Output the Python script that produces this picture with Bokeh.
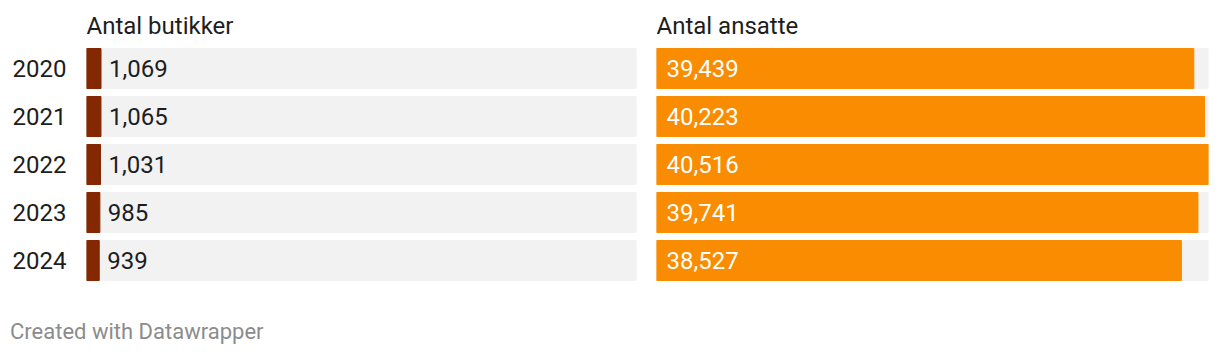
from bokeh.plotting import figure
from bokeh.models import FactorRange, Range1d, ColumnDataSource, Div
from bokeh.layouts import row, column
from bokeh.embed import file_html
from bokeh.resources import INLINE
from bokeh.core.properties import value

years = ["2020", "2021", "2022", "2023", "2024"]
butikker = [1069, 1065, 1031, 985, 939]
ansatte = [39439, 40223, 40516, 39741, 38527]
col_titles = ["Antal butikker", "Antal ansatte"]
footer = "Created with Datawrapper"

FONT = "Roboto"
FS = "24px"
TXT = "#1d1d1d"
BG = "#f2f2f2"
C_LEFT = "#832800"
C_RIGHT = "#f98c00"

vmax = max(max(butikker), max(ansatte))


def make_src(vals):
    return ColumnDataSource(dict(
        y=years,
        v=vals,
        lbl=[f"{v:,}" for v in vals],
        bg=[vmax] * len(vals),
        zero=[0] * len(vals),
    ))


def base_fig(width, frame_w, border_left, title):
    p = figure(width=width, height=300,
               y_range=FactorRange(factors=years[::-1], range_padding=0),
               x_range=Range1d(0, vmax),
               output_backend="svg", toolbar_location=None,
               x_axis_location=None,
               min_border_left=border_left, min_border_right=width - border_left - frame_w,
               min_border_top=44, min_border_bottom=16,
               background_fill_color="white", border_fill_color="white")
    p.outline_line_color = None
    p.grid.visible = False
    p.title.text = title
    p.title.text_font = FONT
    p.title.text_font_size = FS
    p.title.text_font_style = "normal"
    p.title.text_color = TXT
    p.title.align = "left"
    p.title.standoff = 9
    return p


# left panel
p1 = base_fig(646, 550, 86, col_titles[0])
s1 = make_src(butikker)
p1.hbar(y="y", left="zero", right="bg", height=40 / 48, color=BG, source=s1)
p1.hbar(y="y", left="zero", right="v", height=40 / 48, color=C_LEFT, source=s1)
p1.text(x="v", y="y", text="lbl", x_offset=8, text_baseline="middle", text_align="left",
        text_font=value(FONT), text_font_size=FS, text_color=TXT, source=s1)
ax = p1.yaxis[0]
ax.axis_line_color = None
ax.major_tick_line_color = None
ax.minor_tick_line_color = None
ax.major_tick_out = 0
ax.major_tick_in = 0
ax.major_label_text_font = FONT
ax.major_label_text_font_size = FS
ax.major_label_text_color = TXT
ax.major_label_standoff = 20

# right panel
p2 = base_fig(574, 552, 10, col_titles[1])
p2.yaxis.visible = False
s2 = make_src(ansatte)
p2.hbar(y="y", left="zero", right="bg", height=40 / 48, color=BG, source=s2)
p2.hbar(y="y", left="zero", right="v", height=40 / 48, color=C_RIGHT, source=s2)
p2.text(x="zero", y="y", text="lbl", x_offset=10, text_baseline="middle", text_align="left",
        text_font=value(FONT), text_font_size=FS, text_color="white", source=s2)

foot = Div(text=footer, width=1220, height=56, margin=(0, 0, 0, 0),
           styles={"padding-left": "10px", "padding-top": "19px", "box-sizing": "border-box",
                   "font-family": "Roboto", "font-size": "22px", "line-height": "normal",
                   "color": "#8c8c8c"})

layout = column(row(p1, p2), foot)
open("out.html", "w").write(file_html(layout, INLINE))
